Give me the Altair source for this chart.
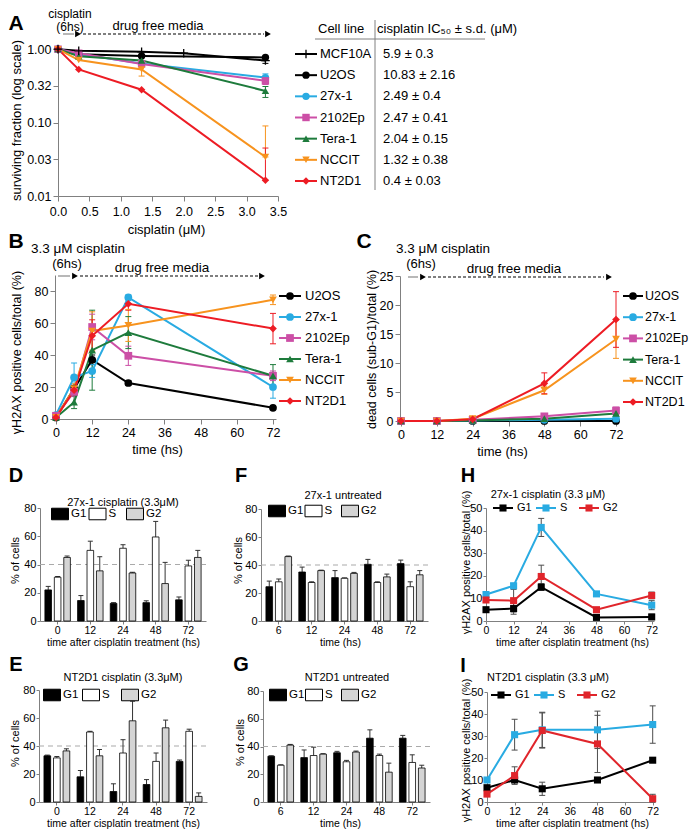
import altair as alt
import pandas as pd

FONT = "Liberation Sans"
W, H = 681, 822
M = 8
AXC = "#808080"


def px(v):
    return v - M


# ================= DATA =================
# Panel A: clonogenic survival
A_lines = ["MCF10A", "U2OS", "27x-1", "2102Ep", "Tera-1", "NCCIT", "NT2D1"]
A_colors = ["#000000", "#000000", "#29abe2", "#cc4fa6", "#1e7b3c", "#f7931e", "#ed1c24"]
A_shapes = ["M-1,0H1M0,-1V1", "circle", "circle", "square", "triangle-up", "triangle-down", "diamond"]
A_ic50 = ["5.9 ± 0.3", "10.83 ± 2.16", "2.49 ± 0.4", "2.47 ± 0.41", "2.04 ± 0.15", "1.32 ± 0.38", "0.4 ± 0.03"]
A_dose_mcf10a = [0, 0.33, 1.33, 2.0, 3.3]
A_mcf10a = [1.0, 0.95, 0.92, 0.88, 0.70]
A_dose = [0, 0.33, 1.33, 3.3]
A_u2os = [1.0, 0.85, 0.81, 0.77]
A_27x1 = [1.0, 0.86, 0.64, 0.41]
A_2102ep = [1.0, 0.88, 0.63, 0.37]
A_tera1 = [1.0, 0.80, 0.70, 0.27]
A_nccit = [1.0, 0.71, 0.53, 0.034]
A_nt2d1 = [1.0, 0.53, 0.28, 0.0164]
A_err_line = ["MCF10A", "27x-1", "2102Ep", "Tera-1", "NCCIT", "NCCIT", "NT2D1"]
A_err_dose = [3.3, 3.3, 3.3, 3.3, 1.33, 3.3, 3.3]
A_err_lo = [0.64, 0.36, 0.33, 0.22, 0.43, 0.034, 0.0164]
A_err_hi = [0.76, 0.46, 0.41, 0.31, 0.63, 0.090, 0.045]

# Panel B: gammaH2AX positive cells
BC_lines = A_lines[1:]
BC_colors = A_colors[1:]
BC_shapes = A_shapes[1:]
B_time = [0, 6, 12, 24, 72]
B_u2os = [1, 19, 37, 22.5, 7]
B_u2os_sd = [0.5, 2, 3, 1.5, 1]
B_27x1 = [2.5, 26, 30, 76, 20]
B_27x1_sd = [1, 9, 4, 1.5, 7]
B_2102ep = [2, 17, 57.5, 39.5, 27]
B_2102ep_sd = [1, 3, 8, 6, 3]
B_tera1 = [1, 10.5, 43, 54, 27]
B_tera1_sd = [1, 4, 25, 10, 7]
B_nccit = [1, 19, 55, 58.5, 74.5]
B_nccit_sd = [0.5, 3, 12, 10, 3]
B_nt2d1 = [1, 18, 52, 72, 56.5]
B_nt2d1_sd = [0.5, 3, 10, 4, 9.5]

# Panel C: dead cells (sub-G1)
C_time = [0, 12, 24, 48, 72]
C_u2os = [0, 0, 0, 0, 0]
C_u2os_sd = [0, 0, 0, 0, 0]
C_27x1 = [0, 0, 0.1, 0.2, 0.4]
C_27x1_sd = [0, 0, 0, 0, 0]
C_2102ep = [0, 0, 0.2, 0.8, 1.8]
C_2102ep_sd = [0, 0, 0, 0.2, 0.6]
C_tera1 = [0, 0, 0.1, 0.4, 1.3]
C_tera1_sd = [0, 0, 0, 0, 0.3]
C_nccit = [0, 0, 0.4, 5.3, 14.1]
C_nccit_sd = [0, 0, 0, 0.7, 3.3]
C_nt2d1 = [0, 0, 0.3, 6.5, 17.5]
C_nt2d1_sd = [0, 0, 0, 1.8, 4.8]

# Cell-cycle bar panels
phases = ["G1", "S", "G2"]
bar_colors = ["#000000", "#ffffff", "#d4d4d4"]
t_treat = ["0", "12", "24", "48", "72"]
t_untr = ["6", "12", "24", "48", "72"]
D_g1 = [22, 14.5, 12.5, 13, 15]
D_g1_e = [2.5, 3.5, 0.5, 1.3, 2]
D_s = [31, 50, 51.5, 59.5, 39]
D_s_e = [0.5, 6.5, 2.5, 11, 4]
D_g2 = [45, 35.5, 34, 26.5, 45]
D_g2_e = [1, 10, 0.5, 15, 5]
F_g1 = [24.5, 35, 31, 40.5, 41]
F_g1_e = [4, 3.5, 5, 3.5, 2.5]
F_s = [28, 27.5, 30.5, 27.5, 24.5]
F_s_e = [2, 0.5, 0.3, 0.5, 3.5]
F_g2 = [46, 36, 34, 31.5, 33]
F_g2_e = [0.4, 0.3, 0.7, 2, 3]
E_g1 = [33, 18, 7.5, 12.5, 29]
E_g1_e = [0.5, 4.5, 5.5, 3.5, 1]
E_s = [31.5, 50, 35, 29, 50.5]
E_s_e = [1, 0.5, 9.5, 6, 1.5]
E_g2 = [36.5, 33, 58, 53, 4]
E_g2_e = [1.5, 4.5, 14, 5.5, 2.5]
G_g1 = [33, 32, 35.5, 46, 46]
G_g1_e = [0.3, 5.5, 1, 6, 2]
G_s = [26.5, 33.5, 29, 33.5, 28.5]
G_s_e = [0.3, 6, 1, 1, 5.5]
G_g2 = [41, 34.5, 36, 21.5, 24.5]
G_g2_e = [0.5, 0.3, 0.7, 6.5, 2]

# gammaH2AX by phase
HI_colors = ["#000000", "#29abe2", "#e0252b"]
HI_time = [0, 12, 24, 48, 72]
H_g1 = [5, 5.5, 15, 1.6, 1.8]
H_g1_e = [0.8, 2.5, 1.5, 0.5, 1.2]
H_s = [11.7, 15.6, 41.4, 12, 7]
H_s_e = [1, 1, 4, 0.8, 2]
H_g2 = [9.3, 9, 19.7, 5, 11.3]
H_g2_e = [1, 5, 5, 0.8, 1.5]
I_g1 = [6.5, 10, 6, 10, 19]
I_g1_e = [1, 1, 3, 1, 1]
I_s = [10, 30.6, 32.8, 32.8, 35.2]
I_s_e = [1, 7, 8, 8.5, 8.5]
I_g2 = [3.6, 12, 32.5, 26.4, 1.5]
I_g2_e = [1, 4, 8, 13, 2]

EMPTY = pd.DataFrame({"a": [1]})


# ================= helpers =================
def long_df(names, xs_list, vals_list, sds_list=None):
    rows, errs = [], []
    for i, name in enumerate(names):
        xs = xs_list[i]
        for j, (x, v) in enumerate(zip(xs, vals_list[i])):
            rows.append({"s": name, "x": x, "y": v})
            if sds_list is not None:
                sd = sds_list[i][j]
                if sd > 0:
                    errs.append({"s": name, "x": x, "lo": max(v - sd, 0), "hi": v + sd})
    return pd.DataFrame(rows), (pd.DataFrame(errs) if sds_list is not None else None)


def ax_style(lab, tit):
    return dict(grid=False, domainColor=AXC, tickColor=AXC, labelColor="black",
                titleColor="black", labelFont=FONT, titleFont=FONT, labelFontSize=lab,
                titleFontSize=tit, titleFontWeight="normal", titleBaseline="middle",
                labelOverlap=False, labelFlush=False, domainWidth=1, tickWidth=1)


def y_axis(x0, title, tx, ty, values=None, fmt=None, lab=12, tit=13, tick=4, pad=2):
    kw = ax_style(lab, tit)
    if values is not None:
        kw["values"] = values
    if fmt is not None:
        kw["format"] = fmt
    return alt.Axis(orient="left", offset=-px(x0), title=title, tickSize=tick,
                    labelPadding=pad, titleX=tx - x0, titleY=px(ty), **kw)


def x_axis(y1, title, tx, ty, values=None, fmt=None, lab=12, tit=13, tick=4, pad=2):
    kw = ax_style(lab, tit)
    if values is not None:
        kw["values"] = values
    if fmt is not None:
        kw["format"] = fmt
    return alt.Axis(orient="bottom", offset=px(y1) - H, title=title, tickSize=tick,
                    labelPadding=pad, labelAngle=0, titleX=px(tx), titleY=ty - y1, **kw)


def line_panel(df, err, series, colors, shapes, xs, ys, xa, ya, size=60, sw=2.0,
               unfilled=(), unfilled_shape=None, err_color=None):
    X = alt.X("x:Q", scale=xs, axis=xa)
    Y = alt.Y("y:Q", scale=ys, axis=ya)
    col = alt.Color("s:N", scale=alt.Scale(domain=series, range=colors), legend=None)
    layers = []
    if err is not None and len(err):
        Ylo = alt.Y("lo:Q", scale=ys, axis=ya)
        Yhi = alt.Y("hi:Q", scale=ys, axis=ya)
        ekw = {"color": err_color} if err_color else {}
        enc = {"x": X}
        if not err_color:
            enc["color"] = col
        layers.append(alt.Chart(err).mark_rule(strokeWidth=1, **ekw)
                      .encode(y=Ylo, y2=alt.Y2("hi:Q"), **enc))
        layers.append(alt.Chart(err).mark_point(shape="stroke", size=36, strokeWidth=1,
                                                opacity=1, **ekw).encode(y=Ylo, **enc))
        layers.append(alt.Chart(err).mark_point(shape="stroke", size=36, strokeWidth=1,
                                                opacity=1, **ekw).encode(y=Yhi, **enc))
    layers.append(alt.Chart(df).mark_line(strokeWidth=sw).encode(x=X, y=Y, color=col))
    fs = [s for s in series if s not in unfilled]
    fsh = [shapes[i] for i, s in enumerate(series) if s not in unfilled]
    layers.append(alt.Chart(df[df["s"].isin(fs)]).mark_point(filled=True, size=size, opacity=1)
                  .encode(x=X, y=Y, color=col,
                          shape=alt.Shape("s:N", scale=alt.Scale(domain=fs, range=fsh), legend=None)))
    if unfilled:
        layers.append(alt.Chart(df[df["s"].isin(list(unfilled))])
                      .mark_point(filled=False, shape=unfilled_shape, size=size + 20,
                                  strokeWidth=1.3, opacity=1, color="black")
                      .encode(x=X, y=Y))
    return alt.layer(*layers)


def vlegend(series, colors, shapes, y0, y1, xline, xtext, lw=22, fs=13, size=60,
            unfilled=(), unfilled_shape=None, extra_text=None, x_extra=None):
    df = pd.DataFrame({"s": series})
    if extra_text is not None:
        df["v"] = extra_text
    Y = alt.Y("s:N", scale=alt.Scale(type="point", domain=series, range=[px(y0), px(y1)],
                                     padding=0), axis=None)
    col = alt.Color("s:N", scale=alt.Scale(domain=series, range=colors), legend=None)
    fsr = [s for s in series if s not in unfilled]
    fsh = [shapes[i] for i, s in enumerate(series) if s not in unfilled]
    L = [
        alt.Chart(df).mark_point(shape="stroke", size=lw * lw, strokeWidth=2, opacity=1)
        .encode(x=alt.value(px(xline)), y=Y, color=col),
        alt.Chart(df[df["s"].isin(fsr)]).mark_point(filled=True, size=size, opacity=1)
        .encode(x=alt.value(px(xline)), y=Y, color=col,
                shape=alt.Shape("s:N", scale=alt.Scale(domain=fsr, range=fsh), legend=None)),
        alt.Chart(df).mark_text(align="left", baseline="middle", fontSize=fs)
        .encode(x=alt.value(px(xtext)), y=Y, text="s:N"),
    ]
    if unfilled:
        L.append(alt.Chart(df[df["s"].isin(list(unfilled))])
                 .mark_point(filled=False, shape=unfilled_shape, size=size + 20, strokeWidth=1.3,
                             opacity=1, color="black")
                 .encode(x=alt.value(px(xline)), y=Y))
    if extra_text is not None:
        L.append(alt.Chart(df).mark_text(align="left", baseline="middle", fontSize=fs)
                 .encode(x=alt.value(px(x_extra)), y=Y, text="v:N"))
    return alt.layer(*L)


def hlegend(series, colors, x0, x1, y, lw=20, fs=11, dx=14, size=50):
    df = pd.DataFrame({"s": series})
    Xs = alt.X("s:N", scale=alt.Scale(type="point", domain=series, range=[px(x0), px(x1)],
                                      padding=0), axis=None)
    col = alt.Color("s:N", scale=alt.Scale(domain=series, range=colors), legend=None)
    return alt.layer(
        alt.Chart(df).mark_point(shape="stroke", size=lw * lw, strokeWidth=2, opacity=1)
        .encode(x=Xs, y=alt.value(px(y)), color=col),
        alt.Chart(df).mark_point(shape="square", filled=True, size=size, opacity=1)
        .encode(x=Xs, y=alt.value(px(y)), color=col),
        alt.Chart(df).mark_text(align="left", baseline="middle", fontSize=fs, dx=dx)
        .encode(x=Xs, y=alt.value(px(y)), text="s:N"),
    )


def blegend(x0, x1, y, fs=11.5, dx=11):
    df = pd.DataFrame({"s": phases})
    Xs = alt.X("s:N", scale=alt.Scale(type="point", domain=phases, range=[px(x0), px(x1)],
                                      padding=0), axis=None)
    return alt.layer(
        alt.Chart(df).mark_point(shape="M-1,-0.68H1V0.68H-1Z", size=289, filled=True,
                                 stroke="black", strokeWidth=1, opacity=1)
        .encode(x=Xs, y=alt.value(px(y)),
                fill=alt.Fill("s:N", scale=alt.Scale(domain=phases, range=bar_colors), legend=None)),
        alt.Chart(df).mark_text(align="left", baseline="middle", fontSize=fs, dx=dx)
        .encode(x=Xs, y=alt.value(px(y)), text="s:N"),
    )


def bar_panel(times, g1, g1e, s, se, g2, g2e, x0, x1, y0, y1, xa, ya):
    rows = []
    for p, vals, errs in zip(phases, [g1, s, g2], [g1e, se, g2e]):
        for t, v, e in zip(times, vals, errs):
            rows.append({"t": t, "p": p, "v": v, "hi": v + e})
    df = pd.DataFrame(rows)
    ysc = alt.Scale(domain=[0, 80], range=[px(y1), px(y0)], nice=False)
    Xs = alt.X("t:N", scale=alt.Scale(domain=times, range=[px(x0), px(x1)],
                                      paddingInner=0.22, paddingOuter=0.15), axis=xa)
    Xo = alt.XOffset("p:N", scale=alt.Scale(domain=phases, paddingInner=0.3))
    Yv = alt.Y("v:Q", scale=ysc, axis=ya)
    Yh = alt.Y("hi:Q", scale=ysc, axis=ya)
    return alt.layer(
        alt.Chart(EMPTY).mark_rule(strokeDash=[5, 4], color="#aaaaaa", strokeWidth=1.2)
        .encode(x=alt.value(px(x0)), x2=alt.value(px(x1)),
                y=alt.YDatum(40, type="quantitative", scale=ysc, axis=ya)),
        alt.Chart(df).mark_rule(color="#333333", strokeWidth=1)
        .encode(x=Xs, xOffset=Xo, y=Yv, y2=alt.Y2("hi:Q")),
        alt.Chart(df).mark_point(shape="stroke", size=25, color="#333333", strokeWidth=1, opacity=1)
        .encode(x=Xs, xOffset=Xo, y=Yh),
        alt.Chart(df).mark_bar(stroke="black", strokeWidth=0.8)
        .encode(x=Xs, xOffset=Xo, y=Yv,
                fill=alt.Fill("p:N", scale=alt.Scale(domain=phases, range=bar_colors), legend=None)),
    )


def text_at(txt, x, y, size=13, weight="normal", align="center", color="black"):
    return alt.Chart(EMPTY).mark_text(text=txt, fontSize=size, fontWeight=weight, align=align,
                                      baseline="middle", color=color).encode(
        x=alt.value(px(x)), y=alt.value(px(y)))


def hrule(x0, x1, y, color="black", dash=None, width=1.0):
    kw = {"strokeDash": dash} if dash else {}
    return alt.Chart(EMPTY).mark_rule(color=color, strokeWidth=width, **kw).encode(
        x=alt.value(px(x0)), x2=alt.value(px(x1)), y=alt.value(px(y)))


def vrule(x, y0, y1, color=AXC, width=1.0):
    return alt.Chart(EMPTY).mark_rule(color=color, strokeWidth=width).encode(
        x=alt.value(px(x)), y=alt.value(px(y0)), y2=alt.value(px(y1)))


def arrowhead(x, y, size=45):
    return alt.Chart(EMPTY).mark_point(shape="triangle-right", filled=True, size=size,
                                       color="black", opacity=1).encode(
        x=alt.value(px(x)), y=alt.value(px(y)))


def timeline(g0, g1, a1, d0, d1, a2, y):
    return [hrule(g0, g1, y, color="#a0a0a0", width=1.5), arrowhead(a1, y),
            hrule(d0, d1, y, dash=[3, 2], width=1.2), arrowhead(a2, y)]


layers = []

# ================= Panel A =================
dfA, _ = long_df(A_lines, [A_dose_mcf10a] + [A_dose] * 6,
                 [A_mcf10a, A_u2os, A_27x1, A_2102ep, A_tera1, A_nccit, A_nt2d1])
errA = pd.DataFrame({"s": A_err_line, "x": A_err_dose, "lo": A_err_lo, "hi": A_err_hi})
xsA = alt.Scale(domain=[0, 3.5], range=[px(58), px(278)], nice=False)
ysA = alt.Scale(type="log", domain=[0.01, 1.07], range=[px(196), px(47)], nice=False)
xaA = x_axis(196, "cisplatin (μM)", 166, 229, values=[0, 0.5, 1, 1.5, 2, 2.5, 3, 3.5],
             fmt=".1f", lab=12.5, tit=13, tick=5, pad=4)
yaA = y_axis(58, "surviving fraction (log scale)", 16, 120,
             values=[0.01, 0.0316, 0.1, 0.316, 1.0], fmt=".2f", lab=12.5, tit=13, tick=5, pad=2)
layers.append(line_panel(dfA, errA, A_lines, A_colors, A_shapes, xsA, ysA, xaA, yaA, size=55,
                         unfilled=("MCF10A",), unfilled_shape=A_shapes[0]))
layers.append(vlegend(A_lines, A_colors, A_shapes, 54, 181, 306, 320, lw=22, fs=13, size=55,
                      unfilled=("MCF10A",), unfilled_shape=A_shapes[0],
                      extra_text=A_ic50, x_extra=383))
layers += [
    text_at("Cell line", 318, 29, align="left"),
    text_at("cisplatin IC₅₀ ± s.d. (μM)", 377, 29, align="left"),
    hrule(315, 485, 39, color=AXC),
    vrule(375, 20, 190),
    text_at("cisplatin", 70, 14, size=12),
    text_at("(6hs)", 70, 27, size=12),
    text_at("drug free media", 158, 26),
    text_at("A", 16, 24, size=21, weight="bold"),
]
layers += timeline(63, 74, 78, 83, 264, 268, 34)

# ================= Panel B =================
dfB, errB = long_df(BC_lines, [B_time] * 6,
                    [B_u2os, B_27x1, B_2102ep, B_tera1, B_nccit, B_nt2d1],
                    [B_u2os_sd, B_27x1_sd, B_2102ep_sd, B_tera1_sd, B_nccit_sd, B_nt2d1_sd])
xsB = alt.Scale(domain=[0, 73], range=[px(56), px(276)], nice=False)
ysB = alt.Scale(domain=[0, 90], range=[px(419), px(275)], nice=False)
xaB = x_axis(419, "time (hs)", 157, 449, values=[0, 12, 24, 36, 48, 60, 72], lab=12.5, tit=13,
             tick=5, pad=2)
yaB = y_axis(55, "γH2AX positive cells/total (%)", 16, 352, values=[0, 20, 40, 60, 80],
             lab=12.5, tit=12.5, tick=5, pad=2)
layers.append(line_panel(dfB, errB, BC_lines, BC_colors, BC_shapes, xsB, ysB, xaB, yaB, size=60))
layers.append(vlegend(BC_lines, BC_colors, BC_shapes, 296, 401, 290, 305, lw=22, fs=13, size=60))
layers += [
    text_at("3.3 μM cisplatin", 78, 249, size=13.5),
    text_at("(6hs)", 67, 264, size=13),
    text_at("drug free media", 162, 268, size=13.5),
    text_at("B", 16, 242, size=21, weight="bold"),
]
layers += timeline(58, 70, 75, 80, 258, 262, 276)

# ================= Panel C =================
dfC, errC = long_df(BC_lines, [C_time] * 6,
                    [C_u2os, C_27x1, C_2102ep, C_tera1, C_nccit, C_nt2d1],
                    [C_u2os_sd, C_27x1_sd, C_2102ep_sd, C_tera1_sd, C_nccit_sd, C_nt2d1_sd])
xsC = alt.Scale(domain=[0, 73], range=[px(401), px(619)], nice=False)
ysC = alt.Scale(domain=[0, 25], range=[px(421), px(276)], nice=False)
xaC = x_axis(421, "time (hs)", 502, 451, values=[0, 12, 24, 36, 48, 60, 72], lab=12.5, tit=13,
             tick=5, pad=2)
yaC = y_axis(400, "dead cells (sub-G1)/total (%)", 371, 349, values=[0, 5, 10, 15, 20, 25],
             lab=12.5, tit=12.5, tick=5, pad=2)
layers.append(line_panel(dfC, errC, BC_lines, BC_colors, BC_shapes, xsC, ysC, xaC, yaC, size=60))
layers.append(vlegend(BC_lines, BC_colors, BC_shapes, 296, 402, 633, 645, lw=20, fs=12.5, size=60))
layers += [
    text_at("3.3 μM cisplatin", 443, 249, size=13.5),
    text_at("(6hs)", 421, 264, size=13),
    text_at("drug free media", 514, 269, size=13.5),
    text_at("C", 364, 242, size=21, weight="bold"),
]
layers += timeline(408, 418, 423, 428, 604, 609, 277)

# ================= Bar panels D, F, E, G =================
LAB, TIT = 10.5, 10.5
bar_specs = [
    ("D", "27x-1  cisplatin (3.3μM)", t_treat, (D_g1, D_g1_e, D_s, D_s_e, D_g2, D_g2_e),
     40, 206, 508, 621, "time after cisplatin treatment (hs)", 123, 642, 15, 560,
     (123, 503), (16, 476), (60, 135, 514)),
    ("F", "27x-1 untreated", t_untr, (F_g1, F_g1_e, F_s, F_s_e, F_g2, F_g2_e),
     261, 428, 509, 621, "time (hs)", 340, 642, 238, 560,
     (343, 496), (241, 476), (277, 350, 511)),
    ("E", "NT2D1 cisplatin (3.3μM)", t_treat, (E_g1, E_g1_e, E_s, E_s_e, E_g2, E_g2_e),
     39, 207, 690, 802, "time after cisplatin treatment (hs)", 123, 823, 15, 743,
     (123, 678), (16, 665), (52, 130, 695)),
    ("G", "NT2D1 untreated", t_untr, (G_g1, G_g1_e, G_s, G_s_e, G_g2, G_g2_e),
     263, 430, 691, 802, "time (hs)", 340, 823, 240, 742,
     (347, 678), (241, 665), (278, 350, 695)),
]
for (let, ttl, times, vals, x0, x1, y0, y1, xt, xtx, xty, ytx, yty, tpos, lpos, leg) in bar_specs:
    xa = x_axis(y1, xt, xtx, xty, lab=LAB, tit=TIT, tick=3, pad=1)
    ya = y_axis(x0, "% of cells", ytx, yty, values=[0, 20, 40, 60, 80], lab=LAB + 0.5, tit=TIT + 0.5,
                tick=3, pad=1)
    layers.append(bar_panel(times, *vals, x0, x1, y0, y1, xa, ya))
    layers.append(blegend(leg[0], leg[1], leg[2]))
    layers.append(text_at(ttl, tpos[0], tpos[1], size=11))
    layers.append(text_at(let, lpos[0], lpos[1], size=20, weight="bold"))

# ================= Panels H and I =================
hi_specs = [
    ("H", "27x-1 cisplatin (3.3 μM)", (H_g1, H_s, H_g2), (H_g1_e, H_s_e, H_g2_e),
     486, 654, 508, 621, 572, 642, 466, 562, (548, 495), (468, 476), (503, 589, 508)),
    ("I", "NT2D1 cisplatin (3.3 μM)", (I_g1, I_s, I_g2), (I_g1_e, I_s_e, I_g2_e),
     487, 655, 692, 802, 572, 823, 466, 750, (548, 678), (463, 666), (501, 587, 695)),
]
for (let, ttl, vals, errs, x0, x1, y0, y1, xtx, xty, ytx, yty, tpos, lpos, leg) in hi_specs:
    dfp, errp = long_df(phases, [HI_time] * 3, list(vals), list(errs))
    xs = alt.Scale(domain=[0, 73], range=[px(x0), px(x1)], nice=False)
    ys = alt.Scale(domain=[0, 50], range=[px(y1), px(y0)], nice=False)
    xa = x_axis(y1, "time after cisplatin treatment (hs)", xtx, xty,
                values=[0, 12, 24, 36, 48, 60, 72], lab=LAB, tit=TIT, tick=3, pad=1)
    ya = y_axis(x0, "γH2AX positive cells/total (%)", ytx, yty, values=[0, 10, 20, 30, 40, 50],
                lab=LAB + 0.5, tit=TIT + 0.5, tick=3, pad=1)
    layers.append(line_panel(dfp, errp, phases, HI_colors, ["square"] * 3, xs, ys, xa, ya,
                             size=50, sw=2, err_color="#4d4d4d"))
    layers.append(hlegend(phases, HI_colors, leg[0], leg[1], leg[2]))
    layers.append(text_at(ttl, tpos[0], tpos[1], size=11))
    layers.append(text_at(let, lpos[0], lpos[1], size=20, weight="bold"))

chart = (
    alt.layer(*layers)
    .resolve_scale(x="independent", y="independent", color="independent",
                   fill="independent", shape="independent", xOffset="independent")
    .properties(width=W, height=H, padding=0, autosize=alt.AutoSizeParams(type="none"))
    .configure(font=FONT)
    .configure_view(strokeWidth=0)
)

chart.save("out.html", embed_options={"renderer": "svg", "actions": False})
